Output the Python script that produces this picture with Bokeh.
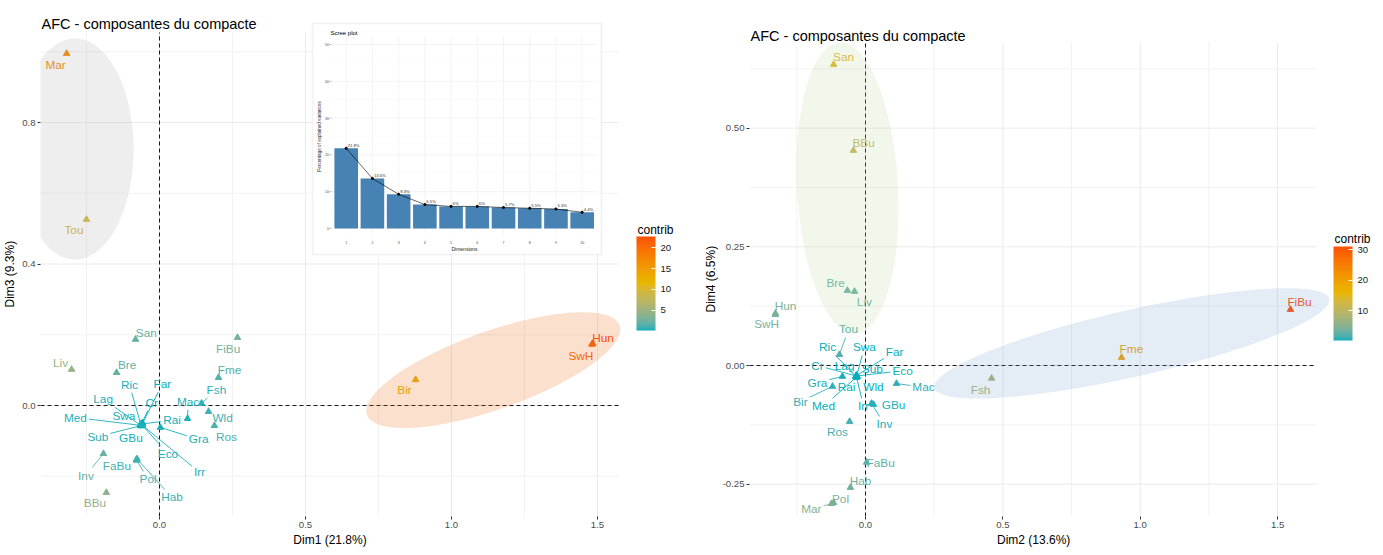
import numpy as np
from bokeh.plotting import figure
from bokeh.models import (ColumnDataSource, Range1d, LinearColorMapper, ColorBar, FixedTicker,
                          PrintfTickFormatter, Label, PolyAnnotation, BoxAnnotation)
from bokeh.layouts import row
from bokeh.core.properties import value
from bokeh.embed import file_html
from bokeh.resources import INLINE

FONT = "Liberation Sans"
TITLE = "AFC - composantes du compacte"

# ---------------- data ----------------
names = ["Mar", "Tou", "San", "Liv", "Bre", "FiBu", "Fme", "Fsh", "Mac", "Wld", "Ros", "Gra", "Rai",
         "Far", "Ric", "Cr", "Lag", "Med", "Swa", "Sub", "GBu", "Eco", "Irr", "Inv", "FaBu", "Pol",
         "Hab", "BBu", "Bir", "Hun", "SwH"]

dim1 = [-0.318, -0.250, -0.082, -0.301, -0.147, 0.267, 0.202, 0.144, 0.096, 0.168, 0.188, 0.003, -0.060,
        -0.058, -0.064, -0.061, -0.066, -0.065, -0.063, -0.064, -0.062, -0.059, -0.060, -0.192, -0.079, -0.078,
        -0.077, -0.182, 0.877, 1.483, 1.481]
dim3 = [0.995, 0.526, 0.187, 0.102, 0.093, 0.192, 0.079, 0.006, -0.037, -0.017, -0.057, -0.062, -0.052,
        -0.050, -0.053, -0.051, -0.055, -0.056, -0.054, -0.057, -0.058, -0.056, -0.055, -0.136, -0.153, -0.155,
        -0.151, -0.246, 0.073, 0.175, 0.173]
dim2 = [-0.124, -0.095, -0.116, -0.040, -0.066, 1.547, 0.932, 0.459, 0.113, -0.031, -0.058, -0.084, -0.034,
        -0.032, -0.035, -0.034, -0.033, -0.034, -0.032, -0.031, 0.029, -0.032, -0.033, 0.022, 0.004, -0.116,
        -0.055, -0.044, -0.120, -0.328, -0.328]
dim4 = [-0.291, 0.023, 0.634, 0.156, 0.158, 0.118, 0.017, -0.027, -0.038, -0.024, -0.118, -0.023, -0.022,
        -0.021, -0.023, -0.022, -0.024, -0.025, -0.021, -0.023, -0.082, -0.022, -0.024, -0.080, -0.204, -0.289,
        -0.257, 0.453, -0.044, 0.110, 0.107]

contrib_13 = [17.0, 9.5, 2.0, 4.5, 1.8, 2.6, 1.4, 0.6, 0.4, 0.9, 1.2, 0.3, 0.2, 0.15, 0.25, 0.1, 0.3, 0.35,
              0.2, 0.3, 0.25, 0.2, 0.3, 2.2, 1.0, 1.1, 0.8, 4.0, 12.5, 22.7, 20.5]
contrib_24 = [5.0, 1.8, 14.0, 2.8, 3.0, 31.0, 19.5, 7.5, 0.9, 0.2, 1.5, 0.5, 0.2, 0.3, 0.3, 0.4, 0.2, 0.3,
              0.2, 0.2, 0.6, 0.4, 0.3, 0.6, 2.5, 4.0, 3.5, 10.5, 1.0, 4.2, 4.0]

# repelled label positions (ggrepel output), data units
lab13_x = [-0.356, -0.293, -0.045, -0.339, -0.111, 0.235, 0.240, 0.195, 0.098, 0.216, 0.229, 0.134, 0.043,
           0.010, -0.103, -0.027, -0.193, -0.288, -0.122, -0.211, -0.098, 0.029, 0.137, -0.252, -0.146, -0.039,
           0.043, -0.221, 0.839, 1.519, 1.443]
lab13_y = [0.963, 0.495, 0.206, 0.120, 0.114, 0.161, 0.099, 0.044, 0.011, -0.034, -0.088, -0.096, -0.042,
           0.061, 0.059, 0.008, 0.018, -0.034, -0.030, -0.088, -0.093, -0.136, -0.189, -0.198, -0.170, -0.209,
           -0.260, -0.277, 0.044, 0.192, 0.139]
lab24_x = [-0.197, -0.062, -0.080, -0.004, -0.109, 1.580, 0.968, 0.419, 0.211, 0.029, -0.102, -0.175, -0.069,
           0.106, -0.138, -0.175, -0.076, -0.153, -0.004, 0.025, 0.102, 0.135, -0.007, 0.069, 0.055, -0.091,
           -0.018, -0.007, -0.237, -0.291, -0.360]
lab24_y = [-0.303, 0.076, 0.649, 0.133, 0.173, 0.133, 0.034, -0.051, -0.046, -0.046, -0.141, -0.036, -0.046,
           0.029, 0.038, 0.000, 0.000, -0.086, 0.038, -0.008, -0.084, -0.011, -0.086, -0.124, -0.206, -0.282,
           -0.244, 0.468, -0.076, 0.126, 0.088]

# axis ticks
x13_major = [0.0, 0.5, 1.0, 1.5]
x13_minor = [-0.25, 0.25, 0.75, 1.25]
y13_major = [0.0, 0.4, 0.8]
y13_minor = [-0.2, 0.2, 0.6, 1.0]
x24_major = [0.0, 0.5, 1.0, 1.5]
x24_minor = [-0.25, 0.25, 0.75, 1.25]
y24_major = [-0.25, 0.0, 0.25, 0.5]
y24_minor = [-0.125, 0.125, 0.375, 0.625]

# scree plot (percentage of explained variances)
scree_dims = [1, 2, 3, 4, 5, 6, 7, 8, 9, 10]
scree_pct = [21.8, 13.6, 9.3, 6.5, 6.0, 6.0, 5.7, 5.5, 5.3, 4.4]
scree_yticks = [0, 10, 20, 30, 40, 50]

# group ellipses
ell13_x = [-0.289, 1.143]
ell13_y = [0.725, 0.100]
ell13_w = [0.40, 0.918]
ell13_h = [0.625, 0.2205]
ell13_angle = [0.0, 19.5]
ell13_color = ["#AAAAAA", "#EB640A"]

ell24_x = [-0.0655, 0.970]
ell24_y = [0.374, 0.0466]
ell24_w = [0.368, 1.473]
ell24_h = [0.614, 0.1407]
ell24_angle = [3.1, 12.7]
ell24_color = ["#BED7A0", "#78A0D2"]

gradient_cols = ["#00AFBB", "#E7B800", "#FC4E07"]

# ---------------- colour ramp in CIELAB ----------------
_M = np.array([[0.4124564, 0.3575761, 0.1804375],
               [0.2126729, 0.7151522, 0.0721750],
               [0.0193339, 0.1191920, 0.9503041]])
_MI = np.linalg.inv(_M)
_W = np.array([0.95047, 1.0, 1.08883])
_D = 6 / 29


def hex_to_lab(h):
    c = np.array([int(h[i:i + 2], 16) for i in (1, 3, 5)]) / 255.0
    lin = np.where(c > 0.04045, ((c + 0.055) / 1.055) ** 2.4, c / 12.92)
    xyz = _M @ lin / _W
    f = np.where(xyz > _D ** 3, np.cbrt(xyz), xyz / (3 * _D ** 2) + 4 / 29)
    return np.array([116 * f[1] - 16, 500 * (f[0] - f[1]), 200 * (f[1] - f[2])])


def lab_to_hex(lab):
    L, a, b = lab
    fy = (L + 16) / 116
    f = np.array([fy + a / 500, fy, fy - b / 200])
    xyz = np.where(f > _D, f ** 3, 3 * _D ** 2 * (f - 4 / 29)) * _W
    lin = _MI @ xyz
    rgb = np.where(lin <= 0.0031308, 12.92 * lin, 1.055 * np.abs(lin) ** (1 / 2.4) - 0.055)
    rgb = np.clip(rgb, 0, 1)
    return "#%02x%02x%02x" % tuple(int(round(v * 255)) for v in rgb)


def lab_palette(hexes, n=256):
    labs = [hex_to_lab(h) for h in hexes]
    k = len(hexes) - 1
    out = []
    for t in np.linspace(0, 1, n):
        s = min(int(t * k), k - 1)
        u = t * k - s
        out.append(lab_to_hex(labs[s] * (1 - u) + labs[s + 1] * u))
    return out


PALETTE = lab_palette(gradient_cols)

_CW = {"A": .667, "B": .667, "C": .722, "D": .722, "E": .667, "F": .611, "G": .778, "H": .722, "I": .278,
       "L": .556, "M": .833, "P": .667, "R": .722, "S": .667, "T": .611, "W": .944, "a": .556, "b": .556,
       "c": .5, "d": .556, "e": .556, "g": .556, "h": .556, "i": .222, "l": .222, "m": .833, "n": .556,
       "o": .556, "r": .333, "s": .5, "t": .278, "u": .556, "v": .5, "w": .722, "y": .5}
LABEL_PX = 11.8
AXIS_LABEL_PX = 12
NBSP_W = 0.278 * AXIS_LABEL_PX


def text_w(s):
    return sum(_CW.get(ch, 0.55) for ch in s) * LABEL_PX


def repel_segments(px, py, lx, ly, c, kx, ky, threshold=7.5):
    seg = dict(x0=[], y0=[], x1=[], y1=[], c=[])
    for i in range(len(px)):
        dx = (lx[i] - px[i]) * kx
        dy = (ly[i] - py[i]) * ky
        hw = text_w(names[i]) / 2 + 2
        hh = 8
        if abs(dx) <= hw and abs(dy) <= hh:
            continue
        t = min(hw / abs(dx) if dx else np.inf, hh / abs(dy) if dy else np.inf)
        rem = (1 - t) * np.hypot(dx, dy)
        if rem < threshold:
            continue
        seg["x0"].append(px[i]); seg["y0"].append(py[i])
        seg["x1"].append(lx[i] - t * (lx[i] - px[i]))
        seg["y1"].append(ly[i] - t * (ly[i] - py[i]))
        seg["c"].append(c[i])
    return seg


def ellipse_poly(cx, cy, w, h, ang, kx, ky, n=144):
    t = np.linspace(0, 2 * np.pi, n, endpoint=False)
    u = w * kx / 2 * np.cos(t)
    v = h * ky / 2 * np.sin(t)
    th = np.radians(ang)
    X = u * np.cos(th) - v * np.sin(th)
    Y = u * np.sin(th) + v * np.cos(th)
    return list(cx + X / kx), list(cy + Y / ky)


class Panel:
    """Pixel layout of one panel: page coords of the frame and of the data area, and the data scale."""

    def __init__(self, fig_left, border_left, frame_right, frame_top, frame_bottom, x0_page, y0_page,
                 kx, ky, data_right, data_top):
        self.fl = fig_left + border_left
        self.fr = frame_right
        self.fw = frame_right - self.fl
        self.ft, self.fb = frame_top, frame_bottom
        self.fh = frame_bottom - frame_top
        self.x0p, self.y0p, self.kx, self.ky = x0_page, y0_page, kx, ky
        self.xr = (self.dx(self.fl), self.dx(frame_right))
        self.yr = (self.dy(frame_bottom), self.dy(frame_top))
        self.data_right, self.data_top = data_right, data_top
        self.xmax = self.dx(data_right)
        self.ymax = self.dy(data_top)
        self.border_left = border_left

    def dx(self, px):
        return (px - self.x0p) / self.kx

    def dy(self, py):
        return (self.y0p - py) / self.ky


def pad_label(text, shift_px):
    # the axis spans the whole frame; trailing no-break spaces move the visible title onto the data area
    return text + "\u00a0" * int(round(2 * shift_px / NBSP_W))


def make_fig(P, xmaj, xmin, ymaj, ymin, xfmt, yfmt, xlabel, ylabel, title_base):
    p = figure(frame_width=int(round(P.fw)), frame_height=int(round(P.fh)), x_range=Range1d(*P.xr),
               y_range=Range1d(*P.yr), output_backend="svg", toolbar_location=None,
               min_border_left=P.border_left, min_border_top=P.ft, min_border_right=0,
               min_border_bottom=31, title=None)
    p.outline_line_color = None
    p.background_fill_color = "white"
    p.border_fill_color = "white"
    p.xgrid.visible = False
    p.ygrid.visible = False
    # panel grid (ggplot minimal)
    p.segment(x0=xmin, x1=xmin, y0=[P.yr[0]] * len(xmin), y1=[P.ymax] * len(xmin), line_color="#f2f2f2",
              line_width=1, level="underlay")
    p.segment(x0=[P.xr[0]] * len(ymin), x1=[P.xmax] * len(ymin), y0=ymin, y1=ymin, line_color="#f2f2f2",
              line_width=1, level="underlay")
    p.segment(x0=xmaj, x1=xmaj, y0=[P.yr[0]] * len(xmaj), y1=[P.ymax] * len(xmaj), line_color="#ebebeb",
              line_width=1, level="underlay")
    p.segment(x0=[P.xr[0]] * len(ymaj), x1=[P.xmax] * len(ymaj), y0=ymaj, y1=ymaj, line_color="#ebebeb",
              line_width=1, level="underlay")
    p.xaxis.ticker = FixedTicker(ticks=xmaj)
    p.yaxis.ticker = FixedTicker(ticks=ymaj)
    p.xaxis.formatter = PrintfTickFormatter(format=xfmt)
    p.yaxis.formatter = PrintfTickFormatter(format=yfmt)
    x_shift = (P.fl + P.fr) / 2 - (P.fl + P.data_right) / 2
    y_shift = (P.data_top + P.fb) / 2 - (P.ft + P.fb) / 2
    p.xaxis.axis_label = pad_label(xlabel, x_shift)
    p.yaxis.axis_label = pad_label(ylabel, y_shift)
    for ax in (p.xaxis[0], p.yaxis[0]):
        ax.axis_line_color = None
        ax.major_tick_line_color = "#333333"
        ax.major_tick_out = 3
        ax.major_tick_in = 0
        ax.minor_tick_line_color = None
        ax.major_label_text_font = FONT
        ax.major_label_text_font_size = "9.6px"
        ax.major_label_text_color = "#4d4d4d"
        ax.axis_label_text_font = FONT
        ax.axis_label_text_font_size = "%dpx" % AXIS_LABEL_PX
        ax.axis_label_text_font_style = "normal"
        ax.axis_label_text_color = "black"
        ax.major_label_standoff = 2
        ax.axis_label_standoff = 2
    p.add_layout(Label(x=P.xr[0], y=P.dy(title_base), x_offset=1, text=TITLE, text_font=FONT,
                       text_font_size="14.5px", text_color="black", text_align="left",
                       text_baseline="alphabetic"))
    return p


def draw_points(p, P, xs, ys, lx, ly, c, mapper):
    dash = dict(line_dash="4 3", line_color="black", line_width=0.9)
    p.segment(x0=[0], y0=[P.yr[0]], x1=[0], y1=[P.ymax], **dash)
    p.segment(x0=[P.xr[0]], y0=[0], x1=[P.xmax], y1=[0], **dash)
    cmap = {"field": "c", "transform": mapper}
    seg = ColumnDataSource(repel_segments(xs, ys, lx, ly, c, P.kx, P.ky))
    p.segment(x0="x0", y0="y0", x1="x1", y1="y1", source=seg, line_color=cmap, line_width=0.9)
    src = ColumnDataSource(dict(x=xs, y=ys, lx=lx, ly=ly, c=c, name=names))
    p.scatter(x="x", y="y", source=src, marker="triangle", size=6.5, fill_color=cmap, line_color=cmap)
    p.text(x="lx", y="ly", text="name", source=src, text_color=cmap, text_font=value(FONT),
           text_font_size="%.1fpx" % LABEL_PX, text_align="center", text_baseline="middle")


def draw_ellipses(p, P, ex, ey, ew, eh, ea, ec):
    for i in range(len(ex)):
        xs, ys = ellipse_poly(ex[i], ey[i], ew[i], eh[i], ea[i], P.kx, P.ky)
        p.add_layout(PolyAnnotation(xs=xs, ys=ys, fill_color=ec[i], fill_alpha=0.2,
                                    line_color=None, line_alpha=0))


def add_colorbar(p, P, mapper, ticks, bar_left, bar_top, bar_bottom, title_base):
    cb = ColorBar(color_mapper=mapper, ticker=FixedTicker(ticks=ticks), width=19,
                  height=int(round(bar_bottom - bar_top)), title=None, major_label_text_font=FONT,
                  major_label_text_font_size="9.6px", major_label_text_color="#1a1a1a",
                  major_tick_line_color="white", major_tick_in=4, major_tick_out=0, bar_line_color=None,
                  border_line_color=None, background_fill_color=None,
                  location=(bar_left - P.fl, P.fb - bar_bottom), margin=0, padding=0, label_standoff=5)
    p.add_layout(cb)
    p.add_layout(Label(x=P.dx(bar_left), y=P.dy(title_base), x_offset=1, text="contrib", text_font=FONT,
                       text_font_size="12px", text_color="black", text_align="left",
                       text_baseline="alphabetic"))


# ---------------- left panel: Dim1 x Dim3 ----------------
PL = Panel(fig_left=8, border_left=33, frame_right=700, frame_top=8, frame_bottom=516, x0_page=160,
           y0_page=405, kx=292.0, ky=353.75, data_right=619, data_top=32)
pL = make_fig(PL, x13_major, x13_minor, y13_major, y13_minor, "%.1f", "%.1f", "Dim1 (21.8%)",
              "Dim3 (9.3%)", title_base=23.5)
mapL = LinearColorMapper(palette=PALETTE, low=min(contrib_13), high=max(contrib_13))

# --- scree plot inset (own ranges) ---
BAR1_PAGE_X, BAR_STEP, ZERO_PAGE_Y, PX_PER_PCT = 346.7, 26.22, 228.0, 3.68


def sxp(x):
    return 1 + (x - BAR1_PAGE_X) / BAR_STEP


def syp(y):
    return (ZERO_PAGE_Y - y) / PX_PER_PCT


pL.extra_x_ranges = {"sx": Range1d(sxp(PL.fl), sxp(PL.fl + PL.fw))}
pL.extra_y_ranges = {"sy": Range1d(syp(PL.fb), syp(PL.ft))}
ins = dict(x_range_name="sx", y_range_name="sy")

pL.add_layout(BoxAnnotation(left=sxp(313), right=sxp(602), bottom=syp(254), top=syp(23), level="underlay",
                            fill_color="white", fill_alpha=1.0, line_color="#d2d2d2", line_width=1.6,
                            **ins))
ymin_s = [v + 5 for v in scree_yticks[:-1]]
pL.segment(x0=[sxp(332)] * len(scree_yticks), x1=[sxp(598)] * len(scree_yticks), y0=scree_yticks,
           y1=scree_yticks, line_color="#ececec", line_width=0.6, **ins)
pL.segment(x0=[sxp(332)] * len(ymin_s), x1=[sxp(598)] * len(ymin_s), y0=ymin_s, y1=ymin_s,
           line_color="#f4f4f4", line_width=0.4, **ins)
pL.segment(x0=scree_dims, x1=scree_dims, y0=[syp(233)] * 10, y1=[syp(35)] * 10,
           line_color="#ececec", line_width=0.6, **ins)
pL.vbar(x=scree_dims, top=scree_pct, bottom=0, width=0.9, fill_color="#4682B4", line_color=None, **ins)
pL.line(x=scree_dims, y=scree_pct, line_color="black", line_width=0.6, **ins)
pL.scatter(x=scree_dims, y=scree_pct, size=2.2, fill_color="black", line_color="black", **ins)
pL.text(x=scree_dims, y=scree_pct, text=["%g%%" % v for v in scree_pct], x_offset=1.5, y_offset=-0.5,
        text_font=value(FONT), text_font_size="4.2px", text_color="#333333", text_align="left",
        text_baseline="bottom", **ins)
pL.text(x=[sxp(329.5)] * len(scree_yticks), y=scree_yticks, text=[str(v) for v in scree_yticks],
        text_font=value(FONT), text_font_size="3.6px", text_color="#4d4d4d", text_align="right",
        text_baseline="middle", **ins)
pL.segment(x0=[sxp(330)] * len(scree_yticks), x1=[sxp(332)] * len(scree_yticks), y0=scree_yticks,
           y1=scree_yticks, line_color="#555555", line_width=0.4, **ins)
pL.text(x=scree_dims, y=[syp(242)] * 10, text=[str(d) for d in scree_dims], text_font=value(FONT),
        text_font_size="3.6px", text_color="#4d4d4d", text_align="center", text_baseline="middle", **ins)
pL.text(x=[sxp(465)], y=[syp(248.5)], text=["Dimensions"], text_font=value(FONT), text_font_size="5px",
        text_color="#222222", text_align="center", text_baseline="middle", **ins)
pL.text(x=[sxp(320)], y=[syp(136)], text=["Percentage of explained variances"], angle=np.pi / 2,
        text_font=value(FONT), text_font_size="4.6px", text_color="#222222", text_align="center",
        text_baseline="middle", **ins)
pL.text(x=[sxp(331)], y=[syp(32)], text=["Scree plot"], text_font=value(FONT), text_font_size="6px",
        text_color="black", text_align="left", text_baseline="alphabetic", **ins)

draw_points(pL, PL, dim1, dim3, lab13_x, lab13_y, contrib_13, mapL)
draw_ellipses(pL, PL, ell13_x, ell13_y, ell13_w, ell13_h, ell13_angle, ell13_color)
add_colorbar(pL, PL, mapL, [5, 10, 15, 20], bar_left=637, bar_top=236, bar_bottom=330, title_base=229.5)

# ---------------- right panel: Dim2 x Dim4 ----------------
PR = Panel(fig_left=700, border_left=50, frame_right=1375, frame_top=8, frame_bottom=516, x0_page=866,
           y0_page=365, kx=274.7, ky=474.7, data_right=1317, data_top=42)
pR = make_fig(PR, x24_major, x24_minor, y24_major, y24_minor, "%.1f", "%.2f", "Dim2 (13.6%)",
              "Dim4 (6.5%)", title_base=35.4)
mapR = LinearColorMapper(palette=PALETTE, low=min(contrib_24), high=max(contrib_24))
draw_points(pR, PR, dim2, dim4, lab24_x, lab24_y, contrib_24, mapR)
draw_ellipses(pR, PR, ell24_x, ell24_y, ell24_w, ell24_h, ell24_angle, ell24_color)
add_colorbar(pR, PR, mapR, [10, 20, 30], bar_left=1334, bar_top=246, bar_bottom=340, title_base=238.5)

layout = row(pL, pR)
open("out.html", "w").write(file_html(layout, INLINE))
